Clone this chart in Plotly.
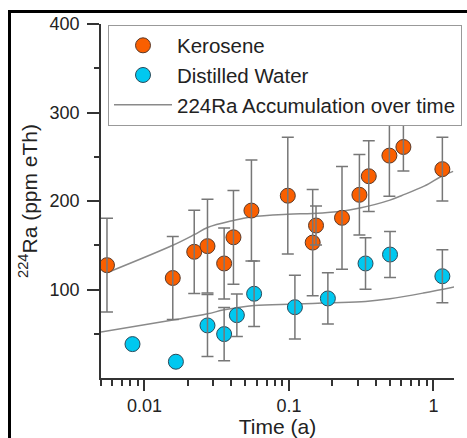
import plotly.graph_objects as go

# ---------------- data ----------------
ker_time = [0.0055, 0.0157, 0.0221, 0.0273, 0.0356, 0.0413, 0.055, 0.0982, 0.146, 0.154,
            0.233, 0.3075, 0.357, 0.496, 0.62, 1.154]
ker_ra = [127.5, 113, 142.6, 149, 129.4, 159, 189.2, 206, 153, 172.3,
          181, 207, 228, 251.3, 261, 236]
ker_err = [53, 47, 47, 53, 40, 53, 57, 66, 60, 22,
           58, 45.5, 40, 46, 27, 36]

wat_time = [0.00826, 0.0165, 0.0273, 0.0356, 0.0436, 0.0574, 0.110, 0.186, 0.339, 0.501, 1.154]
wat_ra = [38.3, 18.4, 59.4, 49.6, 71, 95.2, 80, 89.9, 129.4, 139.5, 115]
wat_err = [None, None, 35, 30, 24, 37, 36, 29, 29, 26, 30]

fit_ker_time = [0.0055, 0.0157, 0.0221, 0.0273, 0.0413, 0.055, 0.098, 0.146, 0.233, 0.31,
                0.5, 0.6, 0.87, 1.14, 1.37]
fit_ker_ra = [119, 150, 162, 170, 178, 182, 185, 186, 188.5, 192,
              201, 206, 217, 228, 233.5]

fit_wat_time = [0.005, 0.015, 0.0273, 0.0356, 0.0574, 0.11, 0.186, 0.339, 0.5, 0.853, 1.4]
fit_wat_ra = [52, 65, 72.5, 77, 82, 83.5, 85, 86.5, 89.5, 96, 103]

x_tick_vals = [0.01, 0.1, 1]
x_tick_text = ["0.01", "0.1", "1"]
x_minor_vals = [m * d for d in (0.001, 0.01, 0.1, 1) for m in range(2, 10)]
y_tick_vals = [100, 200, 300, 400]
y_minor_vals = [50, 150, 250, 350]

# ---------------- style ----------------
W, H = 467, 438
ML, MR, MT, MB = 101, 13, 24, 60
FONT = "Arial, Liberation Sans, sans-serif"
ORANGE = "#FA5F00"
CYAN = "#00C8F0"
GREY = "#8a8a8a"
AX = "#333333"
TXT = "#222222"


def err_subset(xs, ys, es):
    pts = [(x, y, e) for x, y, e in zip(xs, ys, es) if e is not None]
    return [p[0] for p in pts], [p[1] for p in pts], [p[2] for p in pts]


fig = go.Figure()

# fit curves (drawn first, behind markers)
fig.add_trace(go.Scatter(x=fit_ker_time, y=fit_ker_ra, mode="lines",
                         line=dict(color=GREY, width=1.5, shape="spline"),
                         name="224Ra Accumulation over time", legendrank=3))
fig.add_trace(go.Scatter(x=fit_wat_time, y=fit_wat_ra, mode="lines",
                         line=dict(color=GREY, width=1.5, shape="spline"),
                         showlegend=False))

# markers
fig.add_trace(go.Scatter(x=ker_time, y=ker_ra, mode="markers", name="Kerosene",
                         marker=dict(color=ORANGE, size=15, line=dict(color="#5a3a2a", width=1)),
                         legendrank=1))
fig.add_trace(go.Scatter(x=wat_time, y=wat_ra, mode="markers", name="Distilled Water",
                         marker=dict(color=CYAN, size=15, line=dict(color="#2a4a5a", width=1)),
                         legendrank=2))

# error bars on top of the markers
for xs, ys, es in (err_subset(ker_time, ker_ra, ker_err), err_subset(wat_time, wat_ra, wat_err)):
    fig.add_trace(go.Scatter(x=xs, y=ys, mode="markers", showlegend=False,
                             marker=dict(size=1, opacity=0),
                             error_y=dict(type="data", array=es, visible=True,
                                          color="#777777", thickness=1.5, width=6),
                             hoverinfo="skip"))

# outer frame (pixel positions converted to paper units)
pw, ph = W - ML - MR, H - MT - MB
def px(xp):
    return (xp - ML) / pw
def py(yp):
    return (H - MB - yp) / ph
fig.add_shape(type="rect", xref="paper", yref="paper",
              x0=px(9.5), x1=px(475), y0=py(450), y1=py(11.5),
              line=dict(color="black", width=3), fillcolor="rgba(0,0,0,0)")

fig.update_layout(
    width=W, height=H,
    margin=dict(l=ML, r=MR, t=MT, b=MB, autoexpand=False),
    paper_bgcolor="white", plot_bgcolor="white",
    font=dict(family=FONT, color=TXT),
    showlegend=True,
    legend=dict(x=px(108), y=py(24.5), xanchor="left", yanchor="top",
                bgcolor="white", bordercolor="#999999", borderwidth=1,
                font=dict(size=20.5, family=FONT, color=TXT),
                itemwidth=58, tracegroupgap=0),
)

fig.update_xaxes(type="log", range=[-2.30103, 0.1427],
                 showline=True, linecolor=AX, linewidth=1.5, mirror=False,
                 showgrid=False, zeroline=False,
                 ticks="outside", ticklen=11, tickwidth=1.5, tickcolor=AX,
                 tickvals=x_tick_vals, ticktext=x_tick_text,
                 tickfont=dict(size=18, family=FONT, color=TXT),
                 minor=dict(tickvals=x_minor_vals, ticks="outside", ticklen=6,
                            tickwidth=1.5, tickcolor=AX, showgrid=False),
                 title=dict(text="Time (a)", font=dict(size=21, family=FONT, color=TXT),
                            standoff=12))

fig.update_yaxes(range=[0, 400],
                 showline=True, linecolor=AX, linewidth=1.5,
                 showgrid=False, zeroline=False,
                 ticks="outside", ticklen=12, tickwidth=1.5, tickcolor=AX,
                 tickvals=y_tick_vals,
                 tickfont=dict(size=18, family=FONT, color=TXT),
                 ticklabelstandoff=4,
                 minor=dict(tickvals=y_minor_vals, ticks="outside", ticklen=5,
                            tickwidth=1.5, tickcolor=AX, showgrid=False),
                 title=dict(text="<sup>224</sup>Ra (ppm eTh)",
                            font=dict(size=21, family=FONT, color=TXT),
                            standoff=6))

fig.write_html("out.html")
